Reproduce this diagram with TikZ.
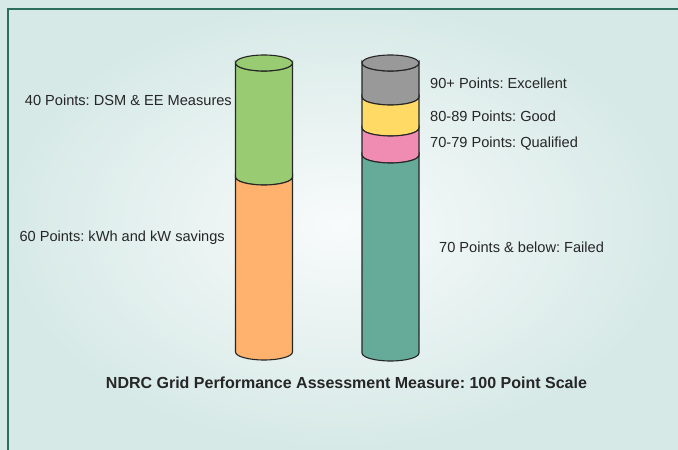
\documentclass[tikz,border=0pt]{standalone}
\usepackage{fontspec}
\setmainfont{Liberation Sans}
\frenchspacing

\definecolor{framegreen}{HTML}{2B6E5C}
\definecolor{bginner}{HTML}{F8FBFB}
\definecolor{bgouter}{HTML}{D6E9E6}
\definecolor{dsmgreen}{HTML}{99CC72}
\definecolor{kwhorange}{HTML}{FFB26E}
\definecolor{excgray}{HTML}{999999}
\definecolor{goodyellow}{HTML}{FFDB66}
\definecolor{qualpink}{HTML}{F08CB2}
\definecolor{failteal}{HTML}{66AA99}

\begin{document}
\begin{tikzpicture}[x=1pt,y=1pt,
	lbl/.style={inner sep=0pt,text=black!85,font=\fontsize{14.6}{16}\selectfont},
	seg/.style={draw=black!85,line width=1.1pt}]
%background
\useasboundingbox (0,0) rectangle (678,450);
\shade[inner color=bginner,outer color=bgouter] (0,0) rectangle (678,450);
\draw[framegreen,line width=2.5pt] (8,0) -- (8,441) -- (678,441);
%left cylinder
\foreach \top/\bot/\col in {387/273/dsmgreen,273/98/kwhorange}
	\filldraw[seg,fill=\col] (235.5,\top) -- (235.5,\bot)
		arc[start angle=180,end angle=360,x radius=28.5,y radius=8]
		-- (292.5,\top) arc[start angle=0,end angle=-180,x radius=28.5,y radius=8] -- cycle;
\filldraw[seg,fill=dsmgreen] (264,387) ellipse [x radius=28.5,y radius=8];
%right cylinder
\foreach \top/\bot/\col in {387/353/excgray,353/322/goodyellow,322/295/qualpink,295/97/failteal}
	\filldraw[seg,fill=\col] (362,\top) -- (362,\bot)
		arc[start angle=180,end angle=360,x radius=28.5,y radius=8]
		-- (419,\top) arc[start angle=0,end angle=-180,x radius=28.5,y radius=8] -- cycle;
\filldraw[seg,fill=excgray] (390.5,387) ellipse [x radius=28.5,y radius=8];
%labels
\node[lbl,anchor=east] (dsm) at (232,350) {40 Points: DSM \& EE Measures};
\node[lbl,anchor=east] (kwh) at (225,212) {60 Points: kWh and kW savings};
\node[lbl,anchor=west] (exc) at (430,367) {90+ Points: Excellent};
\node[lbl,anchor=west] (good) at (430,334) {80-89 Points: Good};
\node[lbl,anchor=west] (qual) at (430,306) {70-79 Points: Qualified};
\node[lbl,anchor=west] (fail) at (439,203) {70 Points \& below: Failed};
\node[lbl,font=\bfseries\fontsize{16}{18}\selectfont] (title) at (346.5,67)
	{NDRC Grid Performance Assessment Measure: 100 Point Scale};
\end{tikzpicture}
\end{document}
